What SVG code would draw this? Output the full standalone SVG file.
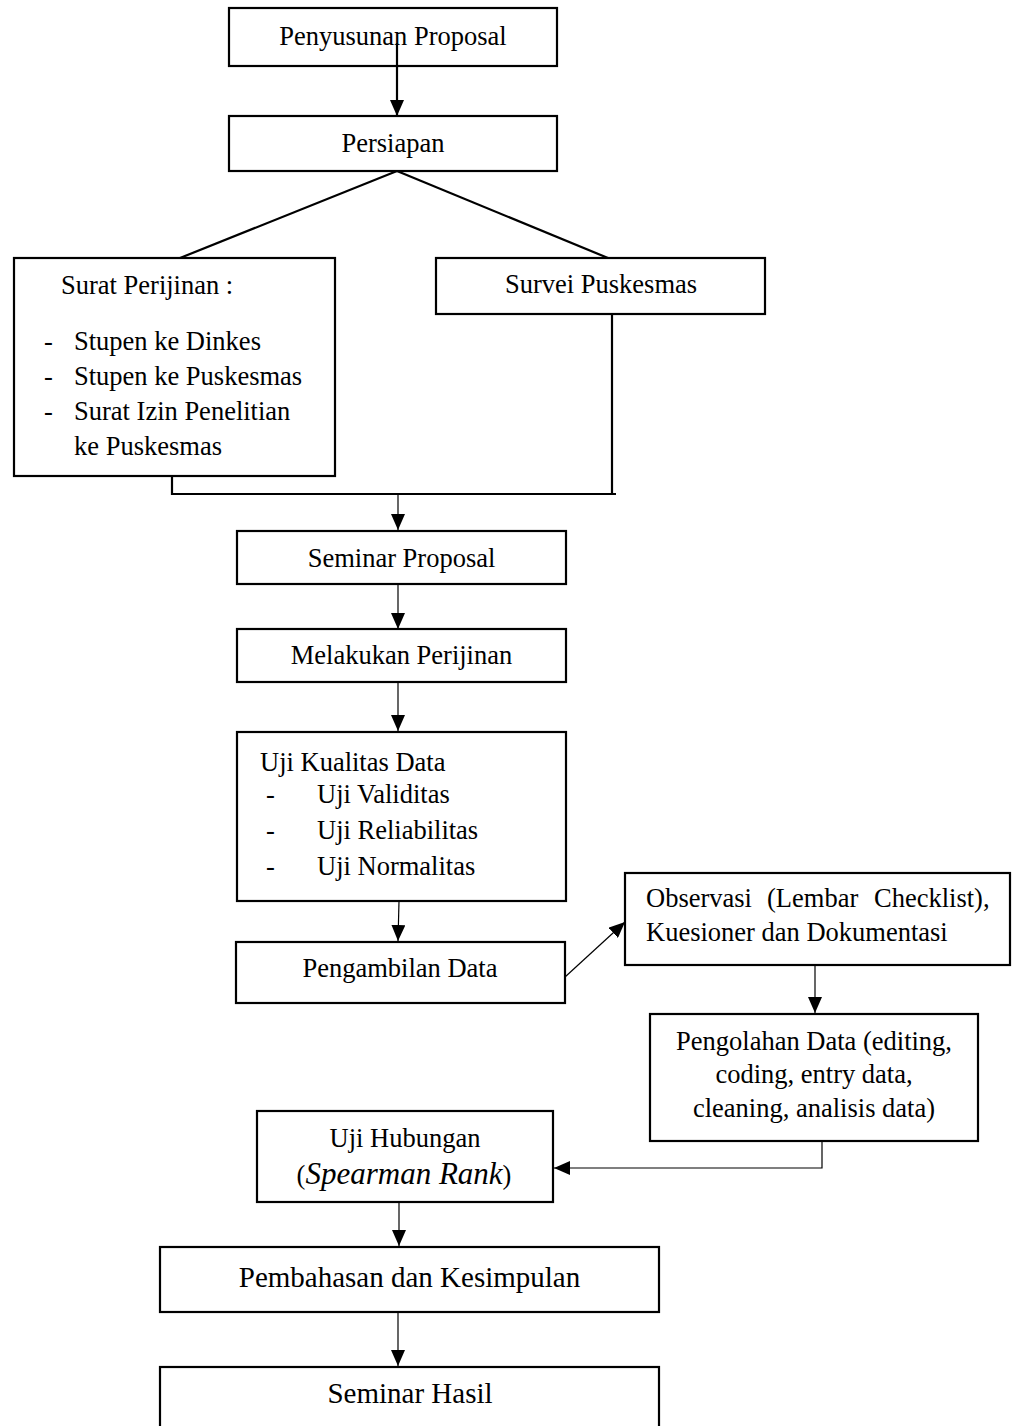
<svg xmlns="http://www.w3.org/2000/svg" width="1018" height="1426" viewBox="0 0 1018 1426">
<style>
.box{fill:#fff;stroke:#000;stroke-width:2.2}
.t{font-family:"Liberation Serif","Times New Roman",serif;font-size:26.5px;fill:#000}
.c{text-anchor:middle}
.big{font-size:29px}
.thin{fill:none;stroke:#000;stroke-width:1.2}
.thick{fill:none;stroke:#000;stroke-width:2.2}
</style>
<defs>
<marker id="ah" viewBox="0 0 16 14" refX="16" refY="7" markerWidth="16" markerHeight="14" markerUnits="userSpaceOnUse" orient="auto">
<path d="M0,0 L16,7 L0,14 z" fill="#000"/>
</marker>
</defs>
<rect width="1018" height="1426" fill="#fff"/>

<g id="n1"><rect class="box" x="229" y="8" width="328" height="58"/><text class="t c" x="393" y="45">Penyusunan Proposal</text></g>
<g id="n2"><rect class="box" x="229" y="116" width="328" height="55"/><text class="t c" x="393" y="152">Persiapan</text></g>
<g id="n3"><rect class="box" x="14" y="258" width="321" height="218"/>
<text class="t" x="61" y="294">Surat Perijinan :</text>
<text class="t" x="44" y="350">-</text><text class="t" x="74" y="350">Stupen ke Dinkes</text>
<text class="t" x="44" y="385">-</text><text class="t" x="74" y="385">Stupen ke Puskesmas</text>
<text class="t" x="44" y="420">-</text><text class="t" x="74" y="420">Surat Izin Penelitian</text>
<text class="t" x="74" y="455">ke Puskesmas</text></g>
<g id="n4"><rect class="box" x="436" y="258" width="329" height="56"/><text class="t c" x="601" y="293">Survei Puskesmas</text></g>
<g id="n5"><rect class="box" x="237" y="531" width="329" height="53"/><text class="t c" x="401.5" y="567">Seminar Proposal</text></g>
<g id="n6"><rect class="box" x="237" y="629" width="329" height="53"/><text class="t c" x="401.5" y="664">Melakukan Perijinan</text></g>
<g id="n7"><rect class="box" x="237" y="732" width="329" height="169"/>
<text class="t" x="260" y="771">Uji Kualitas Data</text>
<text class="t" x="266" y="803">-</text><text class="t" x="317" y="803">Uji Validitas</text>
<text class="t" x="266" y="839">-</text><text class="t" x="317" y="839">Uji Reliabilitas</text>
<text class="t" x="266" y="875">-</text><text class="t" x="317" y="875">Uji Normalitas</text></g>
<g id="n8"><rect class="box" x="236" y="942" width="329" height="61"/><text class="t c" x="400" y="977">Pengambilan Data</text></g>
<g id="n9"><rect class="box" x="625" y="873" width="385" height="92"/>
<text class="t" y="907"><tspan x="646">Observasi</tspan><tspan x="767">(Lembar</tspan><tspan x="874">Checklist),</tspan></text>
<text class="t" x="646" y="941">Kuesioner dan Dokumentasi</text></g>
<g id="n10"><rect class="box" x="650" y="1014" width="328" height="127"/>
<text class="t c" x="814" y="1050">Pengolahan Data (editing,</text>
<text class="t c" x="814" y="1083">coding, entry data,</text>
<text class="t c" x="814" y="1117">cleaning, analisis data)</text></g>
<g id="n11"><rect class="box" x="257" y="1111" width="296" height="91"/>
<text class="t c" x="405" y="1147">Uji Hubungan</text>
<text class="t c" x="404" y="1184">(<tspan font-style="italic" font-size="31px">Spearman Rank</tspan>)</text></g>
<g id="n12"><rect class="box" x="160" y="1247" width="499" height="65"/><text class="t c big" x="409.5" y="1287">Pembahasan dan Kesimpulan</text></g>
<g id="n13"><rect class="box" x="160" y="1367" width="499" height="70"/><text class="t c big" x="410" y="1403">Seminar Hasil</text></g>

<g id="connectors">
<line class="thick" x1="397" y1="43" x2="397" y2="116" marker-end="url(#ah)"/>
<line class="thick" x1="397" y1="171" x2="180" y2="258"/>
<line class="thick" x1="397" y1="171" x2="608" y2="258"/>
<polyline class="thick" points="172,476 172,494 616,494"/>
<line class="thick" x1="612" y1="314" x2="612" y2="494"/>
<line class="thin" x1="398" y1="494" x2="398" y2="530" marker-end="url(#ah)"/>
<line class="thin" x1="398" y1="584" x2="398" y2="629" marker-end="url(#ah)"/>
<line class="thin" x1="398" y1="682" x2="398" y2="731" marker-end="url(#ah)"/>
<line class="thin" x1="399" y1="901" x2="398" y2="941" marker-end="url(#ah)"/>
<line class="thin" x1="565" y1="977" x2="625" y2="922" marker-end="url(#ah)"/>
<line class="thin" x1="815" y1="965" x2="815" y2="1013" marker-end="url(#ah)"/>
<polyline class="thin" points="822,1141 822,1168 554,1168" marker-end="url(#ah)"/>
<line class="thin" x1="399" y1="1202" x2="399" y2="1246" marker-end="url(#ah)"/>
<line class="thin" x1="398" y1="1312" x2="398" y2="1366" marker-end="url(#ah)"/>
</g>
</svg>
